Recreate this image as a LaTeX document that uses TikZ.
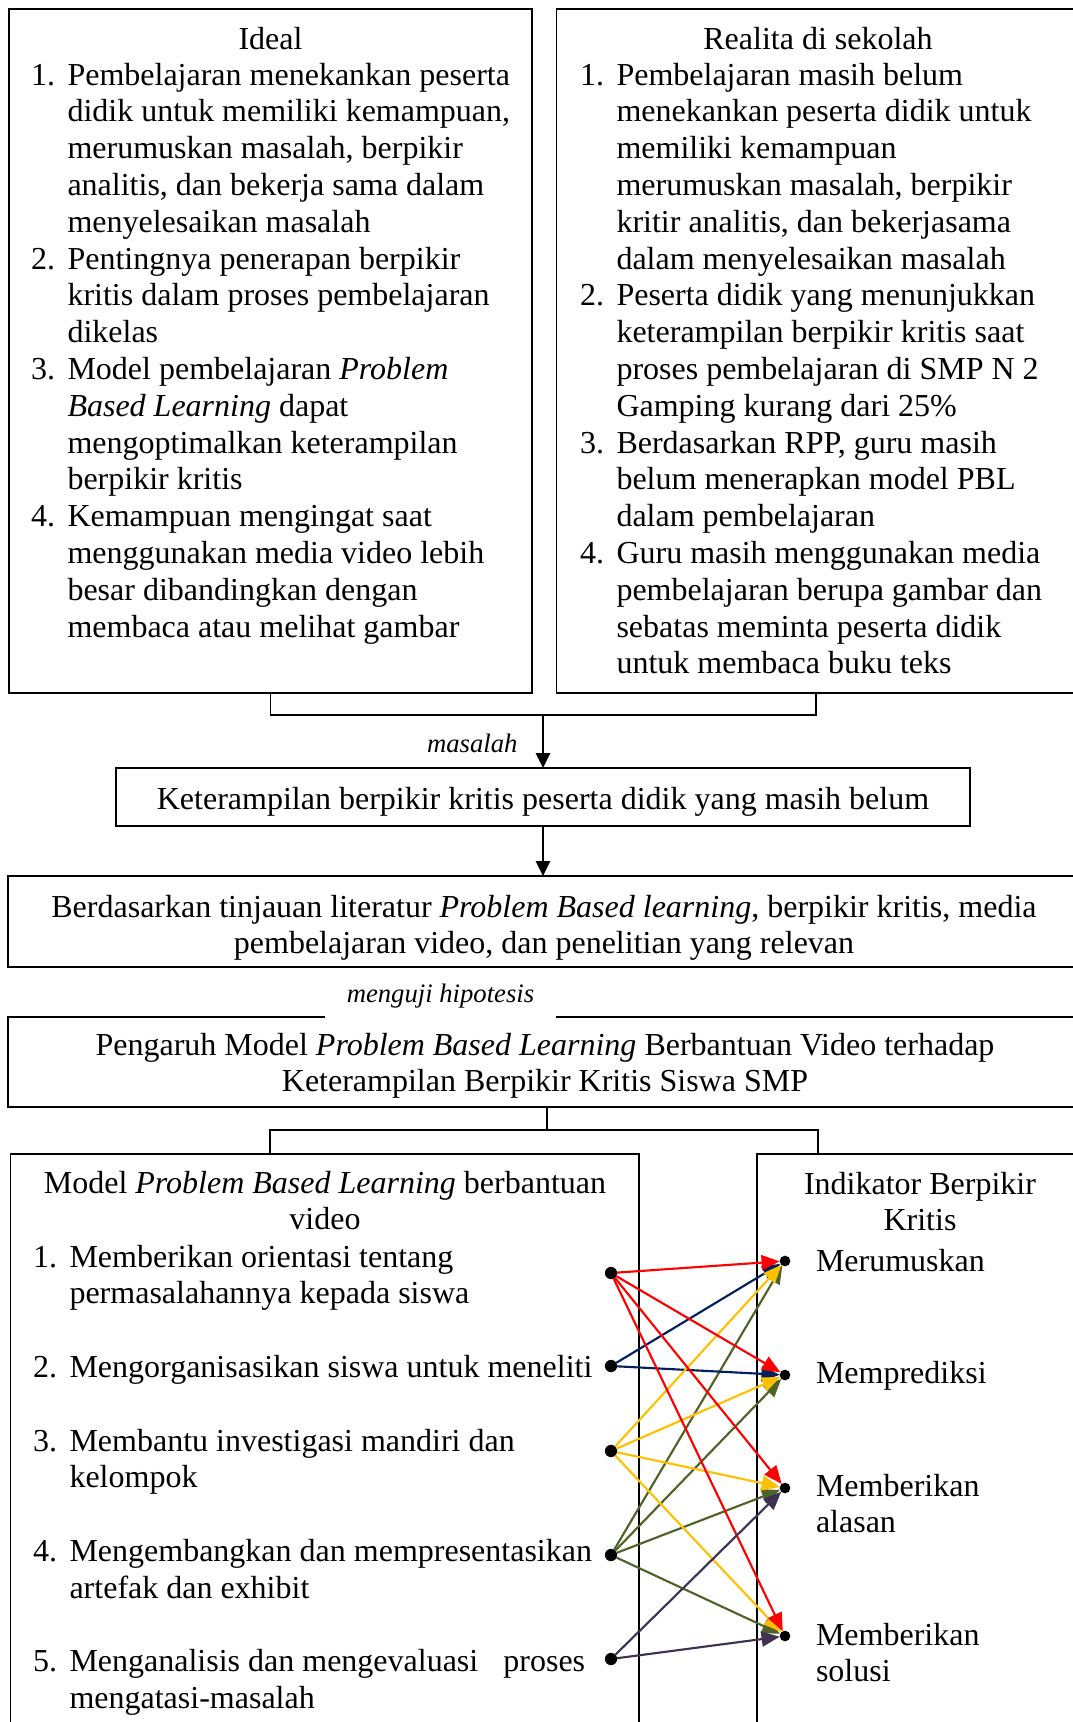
\documentclass[tikz,border=0pt]{standalone}
\usepackage{fontspec}
\setmainfont{Liberation Serif}
\usepackage{tikz}
\usetikzlibrary{
    arrows.meta,
    positioning,
    calc
}
\definecolor{LinkRed}{RGB}{255,0,0}
\definecolor{LinkNavy}{RGB}{0,32,96}
\definecolor{LinkGold}{RGB}{255,192,0}
\definecolor{LinkOlive}{RGB}{79,98,40}
\definecolor{LinkPurple}{RGB}{63,49,81}
\newcommand{\itemnr}[1]{\makebox[13.7pt][l]{#1}}

\begin{document}
\begin{tikzpicture}[
    x=0.375pt,
    y=-0.375pt,
    font=\fontsize{12}{13.8}\selectfont,
    box/.style={
        draw=black,
        line width=0.6pt,
        inner sep=0pt,
        outer sep=0pt
    },
    txt/.style={
        inner sep=0pt,
        outer sep=0pt
    },
    flowlabel/.style={
        font=\fontsize{10}{12}\selectfont\itshape,
        inner sep=0pt
    },
    arrow/.style={
        -{Triangle[length=5.6pt,width=5.4pt]},
        line width=0.6pt
    },
    link/.style={
        -{Triangle[length=6.8pt,width=5.6pt]},
        line width=0.8pt
    },
    srcdot/.style={
        circle,
        fill=black,
        inner sep=0pt,
        outer sep=0pt,
        minimum size=4.6pt
    },
    dstdot/.style={
        circle,
        fill=black,
        inner sep=0pt,
        outer sep=0pt,
        minimum size=4pt
    }
]
\useasboundingbox (0,0) rectangle (1073,1722);
\clip (0,0) rectangle (1073,1722);
%
% ideal and reality
\node[box, minimum width=196.1pt, minimum height=256.5pt] (ideal) at (270.5,351) {};
\node[box, minimum width=194.6pt, minimum height=256.5pt] (real) at (816,351) {};
%
\node[txt, anchor=base] (idealtitle) at (270.5,49) {Ideal};
\node[txt, anchor=base west] (ideallist) at (31,85) {%
\begin{tabular}[t]{@{}l@{}l@{}}
\itemnr{1.} & Pembelajaran menekankan peserta\\
 & didik untuk memiliki kemampuan,\\
 & merumuskan masalah, berpikir\\
 & analitis, dan bekerja sama dalam\\
 & menyelesaikan masalah\\
\itemnr{2.} & Pentingnya penerapan berpikir\\
 & kritis dalam proses pembelajaran\\
 & dikelas\\
\itemnr{3.} & Model pembelajaran \textit{Problem}\\
 & \textit{Based Learning} dapat\\
 & mengoptimalkan keterampilan\\
 & berpikir kritis\\
\itemnr{4.} & Kemampuan mengingat saat\\
 & menggunakan media video lebih\\
 & besar dibandingkan dengan\\
 & membaca atau melihat gambar
\end{tabular}};
%
\node[txt, anchor=base] (realtitle) at (818,49) {Realita di sekolah};
\node[txt, anchor=base west] (reallist) at (580,85) {%
\begin{tabular}[t]{@{}l@{}l@{}}
\itemnr{1.} & Pembelajaran masih belum\\
 & menekankan peserta didik untuk\\
 & memiliki kemampuan\\
 & merumuskan masalah, berpikir\\
 & kritir analitis, dan bekerjasama\\
 & dalam menyelesaikan masalah\\
\itemnr{2.} & Peserta didik yang menunjukkan\\
 & keterampilan berpikir kritis saat\\
 & proses pembelajaran di SMP N 2\\
 & Gamping kurang dari 25\%\\
\itemnr{3.} & Berdasarkan RPP, guru masih\\
 & belum menerapkan model PBL\\
 & dalam pembelajaran\\
\itemnr{4.} & Guru masih menggunakan media\\
 & pembelajaran berupa gambar dan\\
 & sebatas meminta peserta didik\\
 & untuk membaca buku teks
\end{tabular}};
%
% problem, theory, title
\node[box, minimum width=320.25pt, minimum height=21.75pt] (ket) at (543,797) {};
\node[box, minimum width=402pt, minimum height=34.1pt] (berdasar) at (544,921.5) {};
\node[box, minimum width=404.25pt, minimum height=33.75pt] (pengaruh) at (547,1062) {};
%
\node[txt, anchor=base] (kettext) at (543,809)
    {Keterampilan berpikir kritis peserta didik yang masih belum};
\node[txt, anchor=base] (berdasartext) at (544,917) {%
\begin{tabular}[t]{@{}c@{}}
Berdasarkan tinjauan literatur \textit{Problem Based learning}, berpikir kritis, media\\
pembelajaran video, dan penelitian yang relevan
\end{tabular}};
\node[txt, anchor=base] (pengaruhtext) at (545,1055) {%
\begin{tabular}[t]{@{}c@{}}
Pengaruh Model \textit{Problem Based Learning} Berbantuan Video terhadap\\
Keterampilan Berpikir Kritis Siswa SMP
\end{tabular}};
%
\coordinate (join1) at (543,715);
\draw[line width=0.6pt] (ideal.south) |- (join1) -| (real.south);
\draw[arrow] (join1) -- (ket.north);
\node[flowlabel, anchor=east] (maslbl) at (518,743) {masalah};
\draw[arrow] (ket.south) -- (ket.south |- berdasar.north);
%
\node[flowlabel, fill=white, minimum width=86.6pt, minimum height=20pt] (ujilbl) at (440.5,996)
    {menguji hipotesis};
%
% model and indicators
\node[box, minimum width=235.7pt, minimum height=227.25pt] (model) at (324.75,1457) {};
\node[box, minimum width=124.9pt, minimum height=227.25pt] (indik) at (923.5,1457) {};
%
\coordinate (bl) at (270,1130);
\coordinate (br) at (818,1130);
\draw[line width=0.6pt] (pengaruh.south) -- (pengaruh.south |- bl);
\draw[line width=0.6pt] (model.north -| bl) |- (br) -- (indik.north -| br);
%
\node[txt, anchor=base] (modeltitle) at (325,1193) {%
\begin{tabular}[t]{@{}c@{}}
Model \textit{Problem Based Learning} berbantuan\\
video
\end{tabular}};
\node[txt, anchor=base west] (modellist) at (33,1267) {%
\begin{tabular}[t]{@{}l@{}l@{}}
\itemnr{1.} & Memberikan orientasi tentang\\
 & permasalahannya kepada siswa\\[13.8pt]
\itemnr{2.} & Mengorganisasikan siswa untuk meneliti\\[13.8pt]
\itemnr{3.} & Membantu investigasi mandiri dan\\
 & kelompok\\[13.8pt]
\itemnr{4.} & Mengembangkan dan mempresentasikan\\
 & artefak dan exhibit\\[13.8pt]
\itemnr{5.} & Menganalisis dan mengevaluasi\hspace{9.4pt}proses\\
 & mengatasi-masalah
\end{tabular}};
%
\node[txt, anchor=base] (indiktitle) at (920,1194) {%
\begin{tabular}[t]{@{}c@{}}
Indikator Berpikir\\
Kritis
\end{tabular}};
\node[txt, anchor=base west] (merumus) at (816,1271) {Merumuskan};
\node[txt, anchor=base west] (prediksi) at (816,1383) {Memprediksi};
\node[txt, anchor=base west] (alasan) at (816,1496) {%
\begin{tabular}[t]{@{}l@{}}
Memberikan\\
alasan
\end{tabular}};
\node[txt, anchor=base west] (solusi) at (816,1645) {%
\begin{tabular}[t]{@{}l@{}}
Memberikan\\
solusi
\end{tabular}};
%
% dots
\node[srcdot] (l1) at (611,1273) {};
\node[srcdot] (l2) at (611,1366) {};
\node[srcdot] (l3) at (611,1451) {};
\node[srcdot] (l4) at (611,1555) {};
\node[srcdot] (l5) at (611,1659) {};
\node[dstdot] (r1) at (785,1261) {};
\node[dstdot] (r2) at (785,1375) {};
\node[dstdot] (r3) at (785,1488) {};
\node[dstdot] (r4) at (785,1636) {};
%
% links
\draw[link, LinkOlive] (l4) -- (r1);
\draw[link, LinkOlive] (l4) -- (r2);
\draw[link, LinkOlive] (l4) -- (r3);
\draw[link, LinkOlive] (l4) -- (r4);
\draw[link, LinkNavy] (l2) -- (r1);
\draw[link, LinkNavy] (l2) -- (r2);
\draw[link, LinkGold] (l3) -- (r1);
\draw[link, LinkGold] (l3) -- (r2);
\draw[link, LinkGold] (l3) -- (r3);
\draw[link, LinkGold] (l3) -- (r4);
\draw[link, LinkRed] (l1) -- (r1);
\draw[link, LinkRed] (l1) -- (r2);
\draw[link, LinkRed] (l1) -- (r3);
\draw[link, LinkRed] (l1) -- (r4);
\draw[link, LinkPurple] (l5) -- (r3);
\draw[link, LinkPurple] (l5) -- (r4);
%
\end{tikzpicture}
\end{document}
